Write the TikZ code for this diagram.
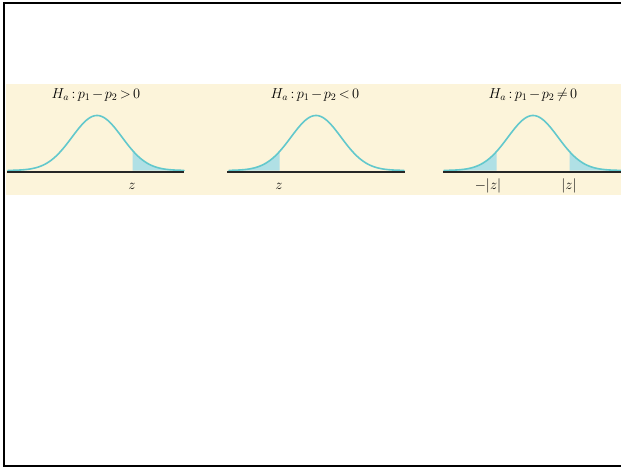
\documentclass[tikz,border=0pt]{standalone}
\usetikzlibrary{positioning}
\definecolor{cream}{RGB}{252,244,218}
\definecolor{curveteal}{RGB}{98,200,204}
\definecolor{tailfill}{RGB}{176,224,229}
\medmuskip=2mu plus 1mu minus 1mu\relax
\thickmuskip=3mu plus 1mu\relax

\begin{document}
\begin{tikzpicture}[x=1pt, y=-1pt,
    declare function={bell(\t)=55*exp(-(\t)^2/(2*25^2));},
    curve/.style={curveteal, line width=1.6pt, line cap=round},
    tail/.style={fill=tailfill},
    axis/.style={black!85, line width=1.3pt},
    title/.style={font=\fontsize{14}{16}\selectfont, inner sep=1pt},
    zlabel/.style={font=\fontsize{14}{16}\selectfont, inner sep=1pt}
  ]
  \useasboundingbox (0,0) rectangle (621,468);
  \fill[cream] (6,84) rectangle (621,195);
  \draw[line width=2pt] (621,3) -- (4,3) -- (4,465.5) -- (621,465.5);

  % right tail
  \fill[tail] (132.5,170.5) -- plot[domain=132.5:184, samples=40] (\x,{170.5-bell(\x-97)}) -- (184,170.5) -- cycle;
  \draw[curve] plot[domain=8:184, samples=120] (\x,{170.5-bell(\x-97)});
  \draw[axis] (7,172) -- (184,172);
  \node[title] (ha1) at (96,95) {$H_a : p_1 - p_2 > 0$};
  \node[zlabel] (z1) at (132,186) {$z$};

  % left tail
  \fill[tail] (229,170.5) -- plot[domain=229:279.5, samples=40] (\x,{170.5-bell(\x-316)}) -- (279.5,170.5) -- cycle;
  \draw[curve] plot[domain=229:404, samples=120] (\x,{170.5-bell(\x-316)});
  \draw[axis] (227,172) -- (405,172);
  \node[title] (ha2) at (315,95) {$H_a : p_1 - p_2 < 0$};
  \node[zlabel] (z2) at (279,186) {$z$};

  % two tails
  \fill[tail] (444,170.5) -- plot[domain=444:496.5, samples=40] (\x,{170.5-bell(\x-533)}) -- (496.5,170.5) -- cycle;
  \fill[tail] (569.5,170.5) -- plot[domain=569.5:621, samples=40] (\x,{170.5-bell(\x-533)}) -- (621,170.5) -- cycle;
  \draw[curve] plot[domain=444:621, samples=120] (\x,{170.5-bell(\x-533)});
  \draw[axis] (443,172) -- (621,172);
  \node[title] (ha3) at (533,95) {$H_a : p_1 - p_2 \neq 0$};
  \node[zlabel] (zl3) at (488,186) {$-|z|$};
  \node[zlabel] (zr3) at (569,186) {$|z|$};
\end{tikzpicture}
\end{document}
